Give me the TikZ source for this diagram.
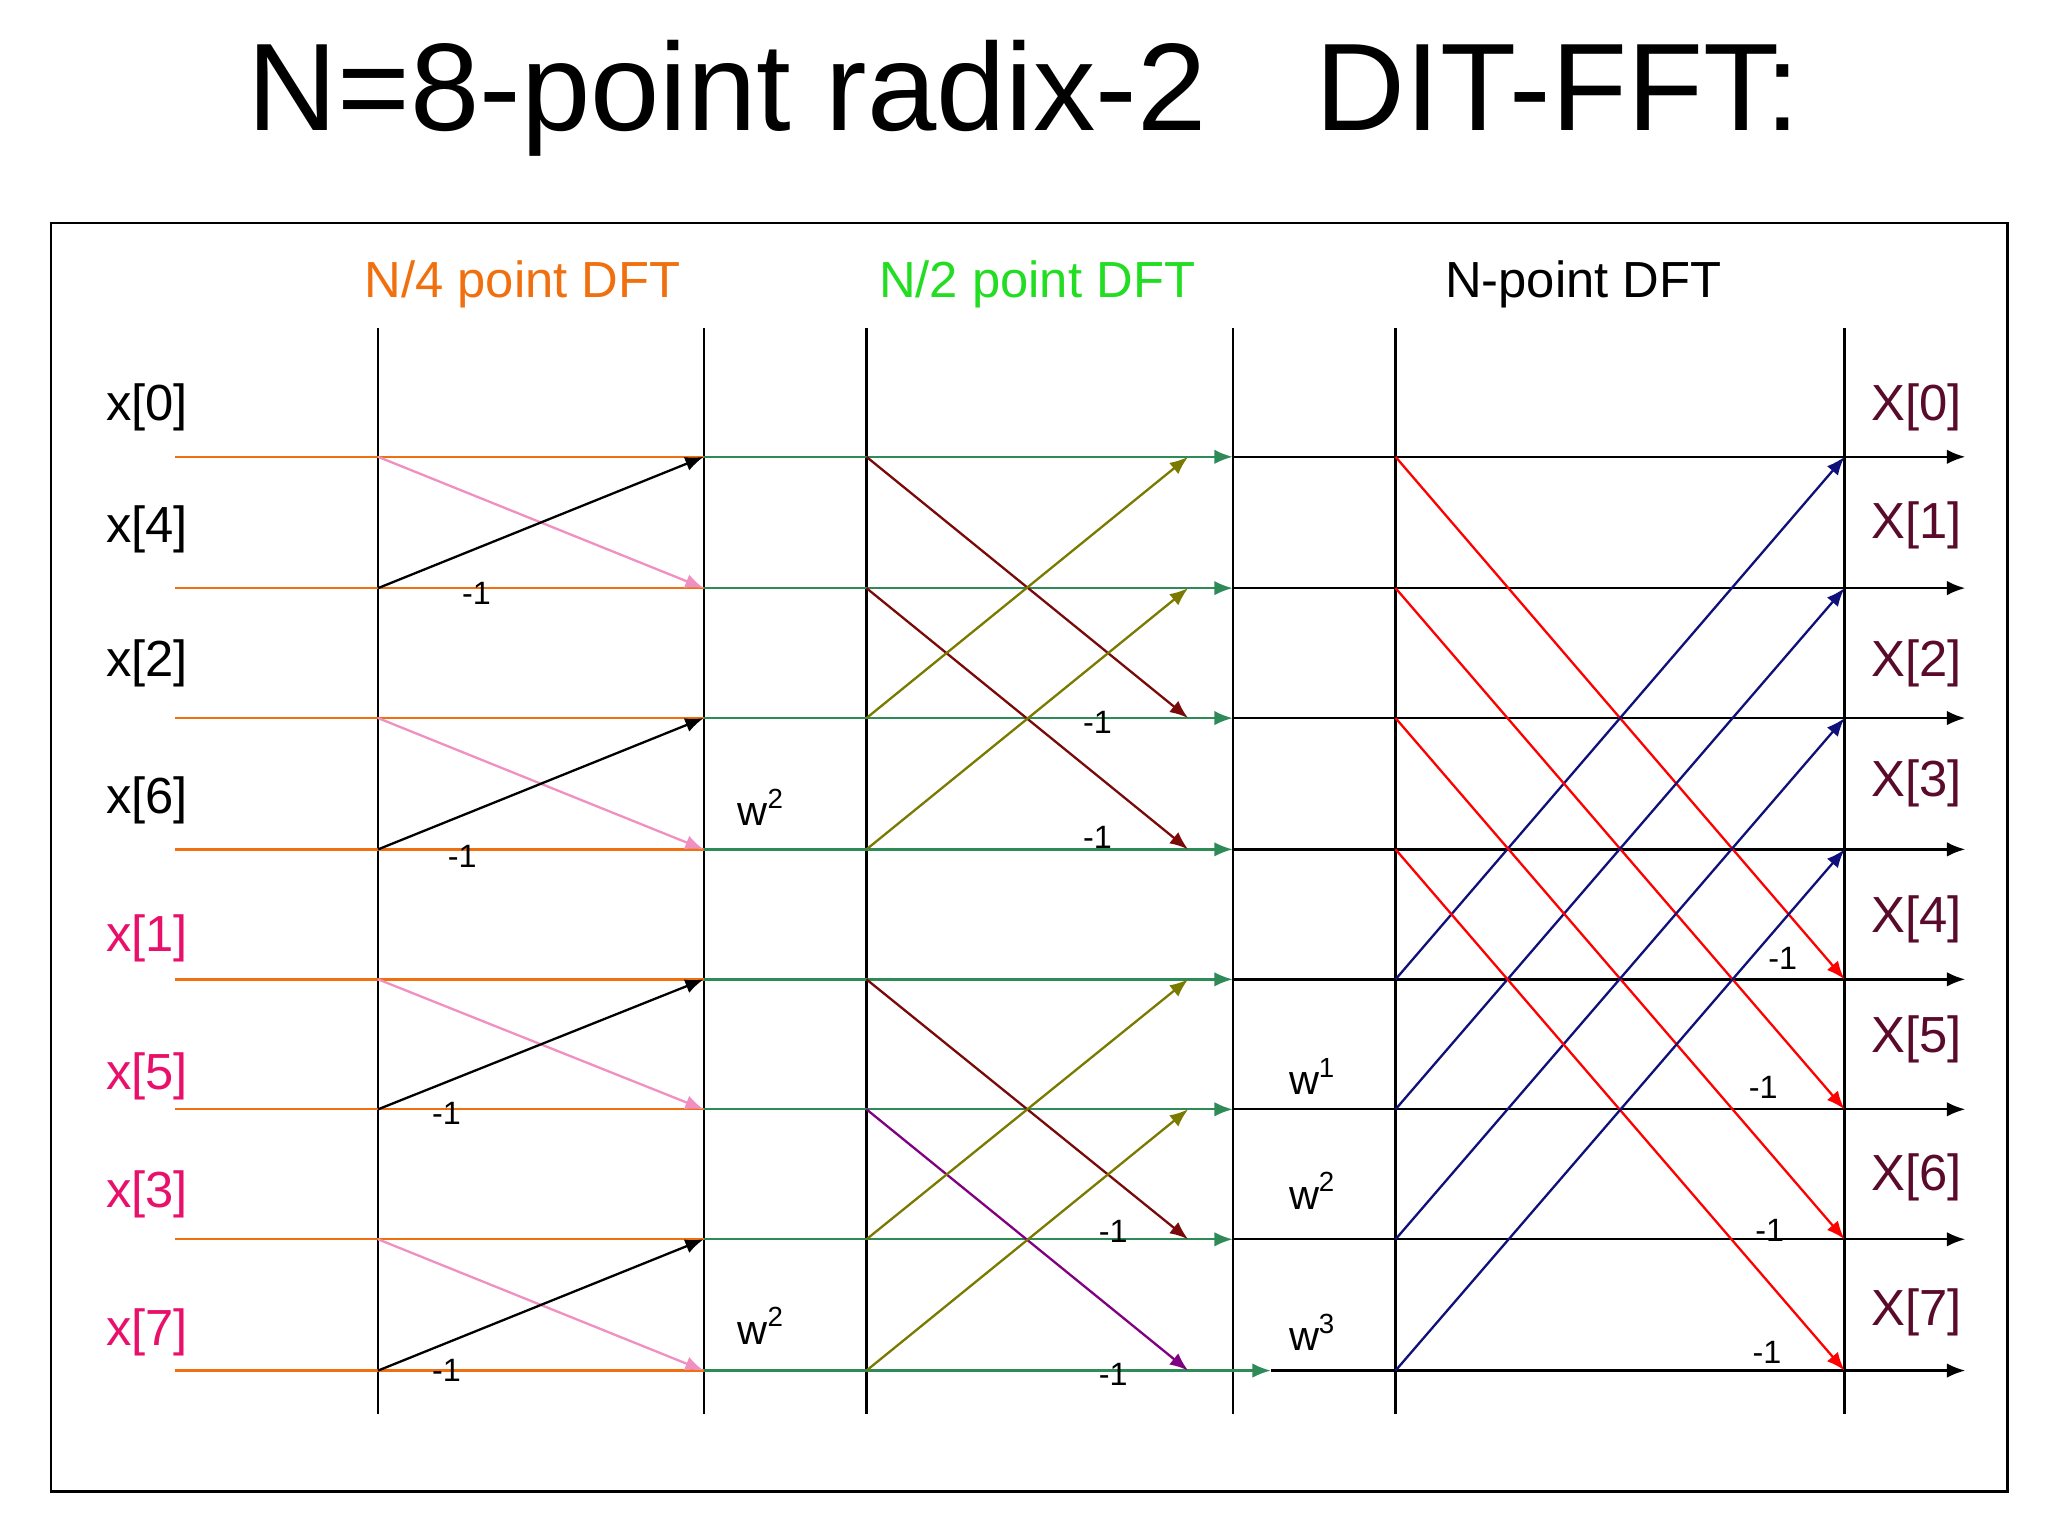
\documentclass[tikz,border=0pt]{standalone}
\usepackage{fontspec}
\setmainfont{Liberation Sans}
\usetikzlibrary{arrows.meta}
\definecolor{orng}{HTML}{F07010}
\definecolor{pnk}{HTML}{F090C0}
\definecolor{grn}{HTML}{2E8B57}
\definecolor{hgrn}{HTML}{22DD22}
\definecolor{drd}{HTML}{7A0A0A}
\definecolor{olv}{HTML}{7A7A00}
\definecolor{prp}{HTML}{800080}
\definecolor{nvy}{HTML}{10107A}
\definecolor{xin}{HTML}{E8106A}
\definecolor{xout}{HTML}{5A0A2A}
\tikzset{
 tip/.style={-{Latex[length=1.4mm,width=1.1mm]}},
 lbl/.style={font=\fontsize{11}{13}\selectfont, inner sep=0pt},
 wl/.style={font=\fontsize{9}{11}\selectfont, inner sep=0pt},
 ml/.style={font=\fontsize{7}{8}\selectfont, inner sep=0pt},
 ln/.style={line width=0.5pt}
}
\begin{document}
\begin{tikzpicture}
\useasboundingbox (0,0) rectangle (15.6,11.7);
\node[font=\fontsize{27}{30}\selectfont] (title) at (7.8,10.95) {N=8-point radix-2\hspace{0.6em} DIT-FFT:};
\draw[ln] (0.39,0.34) rectangle (15.29,10.0);
% vertical lines
\foreach \n/\x in {v1/2.88,v2/5.36,v3/6.60,v4/9.39,v5/10.63,v6/14.05}{
  \coordinate (\n t) at (\x,9.20); \coordinate (\n b) at (\x,0.93);
  \draw[ln] (\n t) -- (\n b);}
% row coordinates
\foreach \i/\y in {0/8.22,1/7.22,2/6.23,3/5.23,4/4.24,5/3.25,6/2.26,7/1.26}{
  \coordinate (a\i) at (1.33,\y);
  \coordinate (b\i) at (2.88,\y);
  \coordinate (c\i) at (5.36,\y);
  \coordinate (d\i) at (6.60,\y);
  \coordinate (dd\i) at (9.05,\y);
  \coordinate (e\i) at (9.39,\y);
  \coordinate (f\i) at (10.63,\y);
  \coordinate (g\i) at (14.05,\y);
  \coordinate (h\i) at (14.97,\y);
}
\coordinate (e7x) at (9.68,1.26);
% horizontal lines
\foreach \i in {0,...,7}{
  \draw[ln,orng] (a\i) -- (c\i);
  \draw[ln,black,tip] (f\i) -- (h\i);
}
\foreach \i in {0,...,6}{
  \draw[ln,grn,tip] (c\i) -- (e\i);
  \draw[ln] (e\i) -- (f\i);
}
\draw[ln,grn,tip] (c7) -- (e7x);
\draw[ln] (e7x) -- (f7);
% stage 1
\foreach \p/\q in {0/1,2/3,4/5,6/7}{
  \draw[ln,pnk,tip] (b\p) -- (c\q);
  \draw[ln,black,tip] (b\q) -- (c\p);
}
% stage 2
\draw[ln,drd,tip] (d0) -- (dd2);
\draw[ln,drd,tip] (d1) -- (dd3);
\draw[ln,olv,tip] (d2) -- (dd0);
\draw[ln,olv,tip] (d3) -- (dd1);
\draw[ln,drd,tip] (d4) -- (dd6);
\draw[ln,prp,tip] (d5) -- (dd7);
\draw[ln,olv,tip] (d6) -- (dd4);
\draw[ln,olv,tip] (d7) -- (dd5);
% stage 3
\foreach \i/\j in {0/4,1/5,2/6,3/7}{
  \draw[ln,red,tip] (f\i) -- (g\j);
  \draw[ln,nvy,tip] (f\j) -- (g\i);
}
% headers
\node[lbl,text=orng] (h1) at (3.98,9.53) {N/4 point DFT};
\node[lbl,text=hgrn] (h2) at (7.90,9.53) {N/2 point DFT};
\node[lbl] (h3) at (12.06,9.53) {N-point DFT};
% inputs
\foreach \t/\y/\c [count=\k] in {0/8.60/black,4/7.67/black,2/6.65/black,6/5.60/black,1/4.55/xin,5/3.50/xin,3/2.60/xin,7/1.55/xin}{
  \node[lbl,text=\c] (x\k) at (1.12,\y) {x[\t]};
}
\foreach \t/\y [count=\k] in {0/8.60,1/7.70,2/6.65,3/5.73,4/4.70,5/3.78,6/2.73,7/1.70}{
  \node[lbl,text=xout] (X\k) at (14.60,\y) {X[\t]};
}
% twiddles
\node[wl] (w1) at (5.80,5.55) {w\textsuperscript{2}};
\node[wl] (w2) at (5.80,1.60) {w\textsuperscript{2}};
\node[wl] (w3) at (10.00,3.50) {w\textsuperscript{1}};
\node[wl] (w4) at (10.00,2.63) {w\textsuperscript{2}};
\node[wl] (w5) at (10.00,1.55) {w\textsuperscript{3}};
% -1 labels
\foreach \x/\y [count=\k] in {3.63/7.18,3.52/5.18,3.40/3.22,3.40/1.26,8.36/6.20,8.36/5.32,8.48/2.32,8.48/1.23,13.58/4.40,13.43/3.42,13.48/2.33,13.46/1.40}{
  \node[ml] (m\k) at (\x,\y) {-1};
}
\end{tikzpicture}
\end{document}
